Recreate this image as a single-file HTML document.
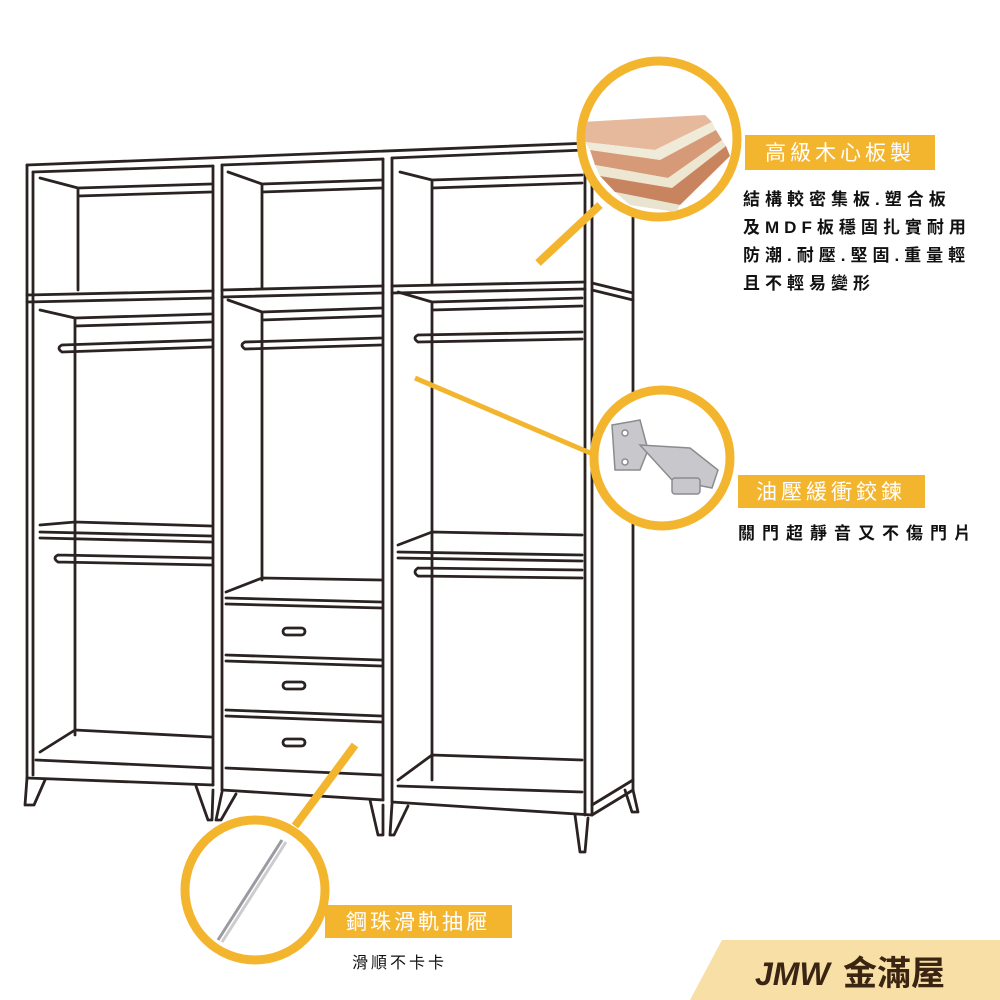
<!DOCTYPE html>
<html><head><meta charset="utf-8"><style>
html,body{margin:0;padding:0;background:#fff;}
svg{display:block;}
.t{font-family:"Liberation Sans","Noto Sans CJK TC",sans-serif;}
</style></head><body>
<svg width="1000" height="1000" viewBox="0 0 1000 1000" xmlns="http://www.w3.org/2000/svg">
<defs>
<clipPath id="c1"><circle cx="659" cy="139" r="74"/></clipPath>
<clipPath id="c2"><circle cx="662" cy="458" r="64"/></clipPath>
<clipPath id="c3"><circle cx="255" cy="890" r="66"/></clipPath>
</defs>
<rect width="1000" height="1000" fill="#fff"/>
<g fill="none" stroke="#2b2222" stroke-width="2.8" stroke-linejoin="round" stroke-linecap="round">
<path d="M27,165 L590,143 L633,150 L633,790"/>
<path d="M27,165 L27,778"/>
<path d="M33,172 L33,775"/>
<path d="M33,172 L213,166 M222,165 L383,159 M392,158 L585,150"/>
<path d="M213,166 L213,785 M222,165 L222,790 M383,159 L383,800 M392,158 L392,802"/>
<path d="M585,150 L585,815 M592,150 L592,815"/>
<path d="M592,150 L633,150 M592,283 L633,293 M592,290 L633,300"/>
<path d="M592,815 L633,790 M592,805 L633,780"/>
<path d="M27,295 L213,291 M27,302 L213,298 M222,290 L383,286 M222,297 L383,293 M392,286 L585,282 M392,293 L585,289"/>
<path d="M40,178 L78,188 L78,290 M78,188 L211,184 M78,196 L211,192"/>
<path d="M400,172 L432,180 L432,285 M432,180 L582,175 M432,188 L582,183"/>
<path d="M228,172 L262,184 L262,288 M262,184 L381,180 M262,192 L381,188"/>
<path d="M40,310 L75,318 L75,735 M75,318 L211,314 M75,326 L211,322"/>
<path d="M62,345 L211,340 M62,352 L211,347 M62,345 Q56,348 62,352"/>
<path d="M40,525 L75,522 L211,526 M40,532 L211,536 M40,538 L211,542"/>
<path d="M58,555 L211,558 M58,562 L211,565 M58,555 Q52,558 58,562"/>
<path d="M40,752 L75,730 L211,737 M36,760 L211,768"/>
<path d="M228,300 L262,312 L262,580 M262,312 L381,308 M262,320 L381,316"/>
<path d="M245,342 L381,338 M245,349 L381,345 M245,342 Q239,345 245,349"/>
<path d="M226,592 L262,578 L381,580 M226,598 L381,602 M226,604 L381,608"/>
<path d="M226,655 L381,660 M226,661 L381,666 M226,710 L381,716 M226,716 L381,722"/>
<path d="M226,768 L381,775"/>
<rect x="283" y="628" width="22" height="7" rx="3.5"/>
<rect x="283" y="682" width="22" height="7" rx="3.5"/>
<rect x="283" y="739" width="22" height="7" rx="3.5"/>
<path d="M398,292 L432,302 L432,780 M432,302 L582,298 M432,310 L582,306"/>
<path d="M418,335 L582,332 M418,342 L582,339 M418,335 Q412,338 418,342"/>
<path d="M398,545 L432,532 L582,535 M398,552 L582,555 M398,558 L582,561"/>
<path d="M418,568 L582,570 M418,576 L582,578 M418,568 Q412,572 418,576"/>
<path d="M398,780 L432,755 L582,760 M398,786 L582,792"/>
<path d="M27,778 L213,785 M222,790 L383,800 M392,802 L592,815"/>
<path d="M27,778 L25,805 L34,805 L45,780"/>
<path d="M196,786 L208,820 L212,820 L213,790 M222,792 L216,820 L221,820 L236,794"/>
<path d="M370,800 L378,835 L383,835 L383,805 M392,804 L390,835 L394,835 L408,806"/>
<path d="M575,815 L580,852 L585,852 L588,818"/>
<path d="M625,790 L632,812 L638,812 L633,790"/>
</g>
<g stroke="#F4B52E" fill="none" stroke-width="9">
<circle cx="659" cy="139" r="78" fill="#fff"/>
<line x1="600" y1="205" x2="538" y2="263" stroke-width="8"/>
<circle cx="662" cy="458" r="68" fill="#fff"/>
<line x1="415" y1="378" x2="595" y2="455" stroke-width="5"/>
<circle cx="255" cy="890" r="70" fill="#fff"/>
<line x1="355" y1="745" x2="295" y2="826" stroke-width="8"/>
</g>
<g clip-path="url(#c1)">
<polygon points="580,122 705,115 712,122 655,150 585,142" fill="#e6b99d"/>
<polygon points="585,142 655,150 712,122 716,130 660,160 590,150" fill="#f0ead8"/>
<polygon points="590,150 660,160 716,130 722,140 668,178 595,165" fill="#d69a78"/>
<polygon points="595,165 668,178 722,140 726,146 672,188 600,176" fill="#ede6d0"/>
<polygon points="600,176 672,188 726,146 730,156 680,205 615,192" fill="#c8845f"/>
<polygon points="615,192 680,205 676,212 630,205" fill="#e8e4d0"/>
</g>
<g clip-path="url(#c2)" fill="#c8c8cc" stroke="#8a8a90" stroke-width="1.5">
<polygon points="612,425 640,420 648,450 640,470 615,470"/>
<polygon points="640,445 690,448 718,470 712,488 672,480"/>
<rect x="672" y="478" width="28" height="16" rx="3"/>
<circle cx="625" cy="433" r="3" fill="#fff"/><circle cx="625" cy="462" r="3" fill="#fff"/>
</g>
<g clip-path="url(#c3)" stroke="#9a9aa2" stroke-width="3" fill="none">
<line x1="218" y1="940" x2="282" y2="840"/>
<line x1="222" y1="942" x2="286" y2="842" stroke="#ccc"/>
</g>
<rect x="745" y="135" width="190" height="35" fill="#F4B52E"/>
<text x="840" y="160" class="t" font-size="21" fill="#fff" text-anchor="middle" letter-spacing="4">高級木心板製</text>
<g class="t" font-size="17" fill="#111" font-weight="bold" letter-spacing="5">
<text x="743" y="205">結構較密集板.塑合板</text>
<text x="743" y="233">及MDF板穩固扎實耐用</text>
<text x="743" y="261">防潮.耐壓.堅固.重量輕</text>
<text x="743" y="289">且不輕易變形</text>
</g>
<rect x="738" y="475" width="187" height="33" fill="#F4B52E"/>
<text x="831" y="499" class="t" font-size="21" fill="#fff" text-anchor="middle" letter-spacing="4">油壓緩衝鉸鍊</text>
<text x="738" y="539" class="t" font-size="17" font-weight="bold" fill="#111" letter-spacing="7">關門超靜音又不傷門片</text>
<rect x="325" y="905" width="187" height="33" fill="#F4B52E"/>
<text x="418" y="929" class="t" font-size="21" fill="#fff" text-anchor="middle" letter-spacing="3">鋼珠滑軌抽屜</text>
<text x="352" y="968" class="t" font-size="16" fill="#111" letter-spacing="3">滑順不卡卡</text>
<polygon points="722,940 1000,940 1000,1000 690,1000" fill="#F8DFA6"/>
<text x="755" y="985" class="t" font-size="32" font-weight="bold" font-style="italic" fill="#3a2412">JMW</text>
<text x="843" y="985" class="t" font-size="34" font-weight="bold" fill="#3a2412">金滿屋</text>
</svg>
</body></html>
